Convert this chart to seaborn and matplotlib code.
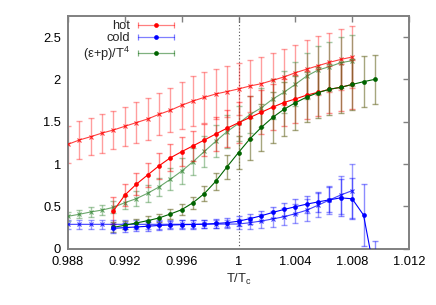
import matplotlib
matplotlib.use("Agg")
import matplotlib.pyplot as plt
import numpy as np
import pandas as pd
import seaborn as sns
from matplotlib.legend_handler import HandlerTuple, HandlerLine2D
from matplotlib.lines import Line2D

# ---------------- data ----------------
# temperature grid (T/Tc) of the "x" series
T_long = [0.9880, 0.9888, 0.9896, 0.9904, 0.9912, 0.9920, 0.9928, 0.9936, 0.9944,
          0.9952, 0.9960, 0.9968, 0.9976, 0.9984, 0.9992, 1.0000, 1.0008, 1.0016,
          1.0024, 1.0032, 1.0040, 1.0048, 1.0056, 1.0064, 1.0072, 1.0080]
# temperature grid of the filled-circle series
T_short = [0.9912, 0.9920, 0.9928, 0.9936, 0.9944, 0.9952, 0.9960, 0.9968, 0.9976,
           0.9984, 0.9992, 1.0000, 1.0008, 1.0016, 1.0024, 1.0032, 1.0040, 1.0048,
           1.0056, 1.0064, 1.0072, 1.0080]
T_eps = T_short + [1.0088, 1.0096]
T_cold = T_short + [1.0088, 1.0096]

# hot (filled circles)
hot = [0.449, 0.633, 0.761, 0.871, 0.979, 1.074, 1.147, 1.216, 1.285, 1.356, 1.425,
       1.489, 1.551, 1.612, 1.673, 1.728, 1.770, 1.815, 1.849, 1.884, 1.908, 1.941]
hot_err = [0.16, 0.13, 0.13, 0.14, 0.15, 0.16, 0.17, 0.18, 0.19, 0.20, 0.22, 0.24,
           0.25, 0.26, 0.27, 0.28, 0.28, 0.28, 0.28, 0.28, 0.28, 0.29]
# cold (filled circles)
cold = [0.241, 0.249, 0.257, 0.265, 0.275, 0.280, 0.284, 0.286, 0.290, 0.298, 0.307,
        0.325, 0.355, 0.389, 0.428, 0.464, 0.496, 0.527, 0.553, 0.578, 0.601, 0.590,
        0.398, -0.31]
cold_err = [0.05, 0.05, 0.05, 0.05, 0.05, 0.05, 0.05, 0.05, 0.05, 0.05, 0.05, 0.06,
            0.06, 0.06, 0.07, 0.08, 0.09, 0.10, 0.12, 0.15, 0.22, 0.24, 0.37, 0.40]
# (eps+p)/T^4 (filled circles)
eps = [0.253, 0.277, 0.304, 0.331, 0.363, 0.410, 0.461, 0.544, 0.652, 0.797, 0.969,
       1.137, 1.298, 1.433, 1.551, 1.648, 1.725, 1.792, 1.845, 1.884, 1.908, 1.941,
       1.974, 2.002]
eps_err = [0.06, 0.05, 0.05, 0.05, 0.05, 0.06, 0.065, 0.07, 0.085, 0.10, 0.14, 0.20,
           0.25, 0.28, 0.30, 0.32, 0.32, 0.30, 0.30, 0.30, 0.30, 0.30, 0.30, 0.29]

# second set ("x" markers)
hot2 = [1.234, 1.285, 1.324, 1.367, 1.403, 1.447, 1.490, 1.533, 1.588, 1.636, 1.695,
        1.746, 1.789, 1.829, 1.858, 1.888, 1.923, 1.950, 1.990, 2.030, 2.080, 2.122,
        2.163, 2.203, 2.237, 2.266]
hot2_err = [0.22, 0.22, 0.22, 0.23, 0.23, 0.23, 0.24, 0.25, 0.25, 0.26, 0.28, 0.30,
            0.30, 0.30, 0.30, 0.31, 0.31, 0.32, 0.32, 0.33, 0.33, 0.34, 0.35, 0.35,
            0.36, 0.37]
cold2 = [0.288, 0.288, 0.288, 0.288, 0.288, 0.288, 0.288, 0.288, 0.288, 0.289, 0.289,
         0.289, 0.290, 0.290, 0.291, 0.292, 0.307, 0.327, 0.351, 0.378, 0.414, 0.455,
         0.514, 0.576, 0.635, 0.686]
cold2_err = [0.05, 0.05, 0.05, 0.05, 0.05, 0.05, 0.05, 0.05, 0.05, 0.05, 0.05, 0.05,
             0.05, 0.05, 0.05, 0.06, 0.07, 0.08, 0.09, 0.10, 0.11, 0.13, 0.14, 0.16,
             0.22, 0.32]
eps2 = [0.383, 0.407, 0.434, 0.457, 0.489, 0.544, 0.591, 0.655, 0.729, 0.820, 0.918,
        1.028, 1.150, 1.270, 1.385, 1.480, 1.585, 1.665, 1.768, 1.849, 1.943, 2.041,
        2.112, 2.151, 2.199, 2.222]
eps2_err = [0.05, 0.05, 0.06, 0.06, 0.07, 0.08, 0.09, 0.10, 0.11, 0.13, 0.15, 0.16,
            0.18, 0.19, 0.20, 0.21, 0.22, 0.23, 0.24, 0.25, 0.26, 0.27, 0.28, 0.29,
            0.30, 0.30]

xticks = [0.988, 0.992, 0.996, 1.0, 1.004, 1.008, 1.012]
xtick_labels = ["0.988", "0.992", "0.996", "1", "1.004", "1.008", "1.012"]
yticks = [0, 0.5, 1, 1.5, 2, 2.5]
ytick_labels = ["0", "0.5", "1", "1.5", "2", "2.5"]

# ---------------- style ----------------
sns.set_theme(style="white")
plt.rcParams['font.family'] = ['Liberation Sans', 'DejaVu Sans']
plt.rcParams['mathtext.fontset'] = 'custom'
plt.rcParams['mathtext.rm'] = 'Liberation Sans'
plt.rcParams['mathtext.it'] = 'Liberation Sans'

fig = plt.figure(figsize=(4.36, 3.05), dpi=100)
ax = fig.add_axes([68 / 436, 1 - 248.7 / 305, (409 - 68) / 436, (248.7 - 15.7) / 305])

RED = "#ff0000"
BLUE = "#0000ff"
GREEN = "#006400"
GREEN_L = "#3a8a3a"
OLIVE = "#6b6b28"


def draw(T, y, err, color, ecolor, marker, ms, lalpha, ealpha, z):
    df = pd.DataFrame({"T": T, "v": y})
    ax.errorbar(T, y, yerr=err, fmt="none", ecolor=ecolor, alpha=ealpha,
                elinewidth=1.0, capsize=2.5, capthick=1.0, zorder=z)
    sns.lineplot(data=df, x="T", y="v", ax=ax, color=color, marker=marker,
                 markersize=ms, markeredgewidth=(0 if marker == "o" else 0.8),
                 markeredgecolor=color, linewidth=0.8, alpha=lalpha, zorder=z + 1,
                 sort=False, legend=False)


draw(T_long, hot2, hot2_err, RED, RED, "x", 3.0, 0.75, 0.38, 2)
draw(T_long, eps2, eps2_err, GREEN_L, GREEN_L, "x", 3.0, 0.75, 0.45, 2)
draw(T_long, cold2, cold2_err, BLUE, BLUE, "x", 3.0, 0.75, 0.4, 2)
draw(T_short, hot, hot_err, RED, RED, "o", 3.4, 1.0, 0.45, 4)
draw(T_eps, eps, eps_err, GREEN, OLIVE, "o", 3.4, 1.0, 0.6, 4)
draw(T_cold, cold, cold_err, BLUE, BLUE, "o", 3.4, 1.0, 0.45, 4)

ax.axvline(1.0, color="#555555", linestyle=(0, (1, 2)), linewidth=0.8, zorder=1)

ax.set_xlim(0.988, 1.012)
ax.set_ylim(0, 2.754)
ax.set_xticks(xticks)
ax.set_xticklabels(xtick_labels)
ax.set_yticks(yticks)
ax.set_yticklabels(ytick_labels)
ax.tick_params(axis="both", which="both", direction="in", length=4, width=1,
               color="#808080", top=True, right=True, labelsize=9.3,
               labelcolor="black", pad=5)
for s in ax.spines.values():
    s.set_color("#808080")
    s.set_linewidth(1.4)
ax.set_xlabel("T/T$_\\mathregular{c}$", fontsize=9.3, labelpad=3)
ax.set_ylabel("")

# legend (gnuplot style: text first, then sample with end caps)
handles = []
hmap = {tuple: HandlerTuple(ndivide=1)}
for col in [RED, BLUE, GREEN]:
    ln = Line2D([], [], color=col, linewidth=0.9, alpha=0.5)
    caps = Line2D([], [], color=col, marker="|", markersize=4.5, markeredgewidth=0.9,
                  linestyle="none", alpha=0.5)
    mk = Line2D([], [], color=col, marker="o", markersize=3.4, markeredgewidth=0,
                linestyle="none")
    hmap[caps] = HandlerLine2D(numpoints=2, marker_pad=0.0)
    handles.append((ln, caps, mk))
labels = ["hot", "cold", "(ε+p)/T$^\\mathregular{4}$"]
leg = ax.legend(handles, labels, handler_map=hmap,
                loc="upper left", bbox_to_anchor=(83 / 436, 1 - 20 / 305),
                bbox_transform=fig.transFigure, frameon=False, markerfirst=False,
                fontsize=9.3, handlelength=2.8, handletextpad=0.6, numpoints=1,
                labelspacing=0.02, borderpad=0, borderaxespad=0, alignment="right")
for t in leg.get_texts():
    t.set_ha("right")

fig.savefig("out.png", dpi=100)
